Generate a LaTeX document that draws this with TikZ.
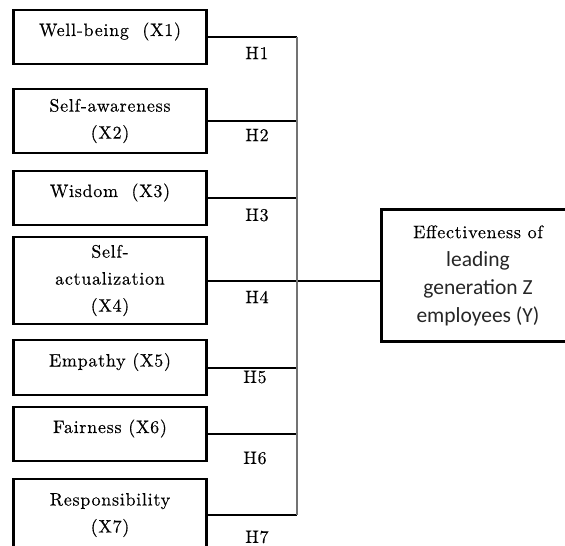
\documentclass[tikz,border=0pt]{standalone}
\usepackage{fontspec}
\setmainfont{lmroman10-regular.otf}[LetterSpace=4,FakeBold=0.3]
\newfontfamily\calibri{Carlito}

\begin{document}
\begin{tikzpicture}[x=1pt,y=-1pt]
\tikzstyle{caja}=[draw,line width=2.2pt,minimum width=193pt,inner sep=0pt,align=center,font=\fontsize{18}{27}\selectfont]
\tikzstyle{una linea}=[caja,minimum height=54pt,text height=13.5pt,text depth=15.5pt]
\tikzstyle{hipotesis}=[font=\fontsize{18}{27}\selectfont,inner sep=0pt]
\tikzstyle{linea}=[line width=2pt]
\tikzstyle{barra}=[line width=1.3pt,draw=black!55]

\useasboundingbox (0,0) rectangle (565,546);
\node[una linea] (x1) at (110,37) {Well-being~~(X1)};
\node[caja,minimum height=64pt] (x2) at (110,121) {Self-awareness\\(X2)};
\node[una linea] (x3) at (110,198) {Wisdom~~(X3)};
\node[caja,minimum height=87pt] (x4) at (110,280.5) {Self-\\actualization\\(X4)};
\node[una linea,minimum height=55pt] (x5) at (110,367.5) {Empathy (X5)};
\node[una linea] (x6) at (110,434) {Fairness (X6)};
\node[caja,minimum height=72pt] (x7) at (110,515) {Responsibility\\(X7)};
\node[caja,minimum height=132pt,font=\fontsize{18}{28}\selectfont] (y) at (478,275.5) {Effectiveness of\\{\calibri\fontsize{21.5}{28}\selectfont\color{black!85} leading}\\{\calibri\fontsize{21.5}{28}\selectfont\color{black!85} generation Z}\\{\calibri\fontsize{21.5}{28}\selectfont\color{black!85} employees (Y)}};
\coordinate (bus) at (297,0);
\draw[linea] (x1.east) -- (x1.east -| bus);
\draw[linea] (x2.east) -- (x2.east -| bus);
\draw[linea] (x3.east) -- (x3.east -| bus);
\draw[linea] (x4.east) -- (x4.east -| y.west);
\draw[linea] (x5.east) -- (x5.east -| bus);
\draw[linea] (x6.east) -- (x6.east -| bus);
\draw[linea] (x7.east) -- (x7.east -| bus);
\draw[barra] (x1.east -| bus) -- (x7.east -| bus);
\node[hipotesis] (h1) at (257,53) {H1};
\node[hipotesis] (h2) at (257,135) {H2};
\node[hipotesis] (h3) at (257,215) {H3};
\node[hipotesis] (h4) at (257,297) {H4};
\node[hipotesis] (h5) at (255,377) {H5};
\node[hipotesis] (h6) at (255,458) {H6};
\node[hipotesis] (h7) at (257,537) {H7};
\end{tikzpicture}
\end{document}
